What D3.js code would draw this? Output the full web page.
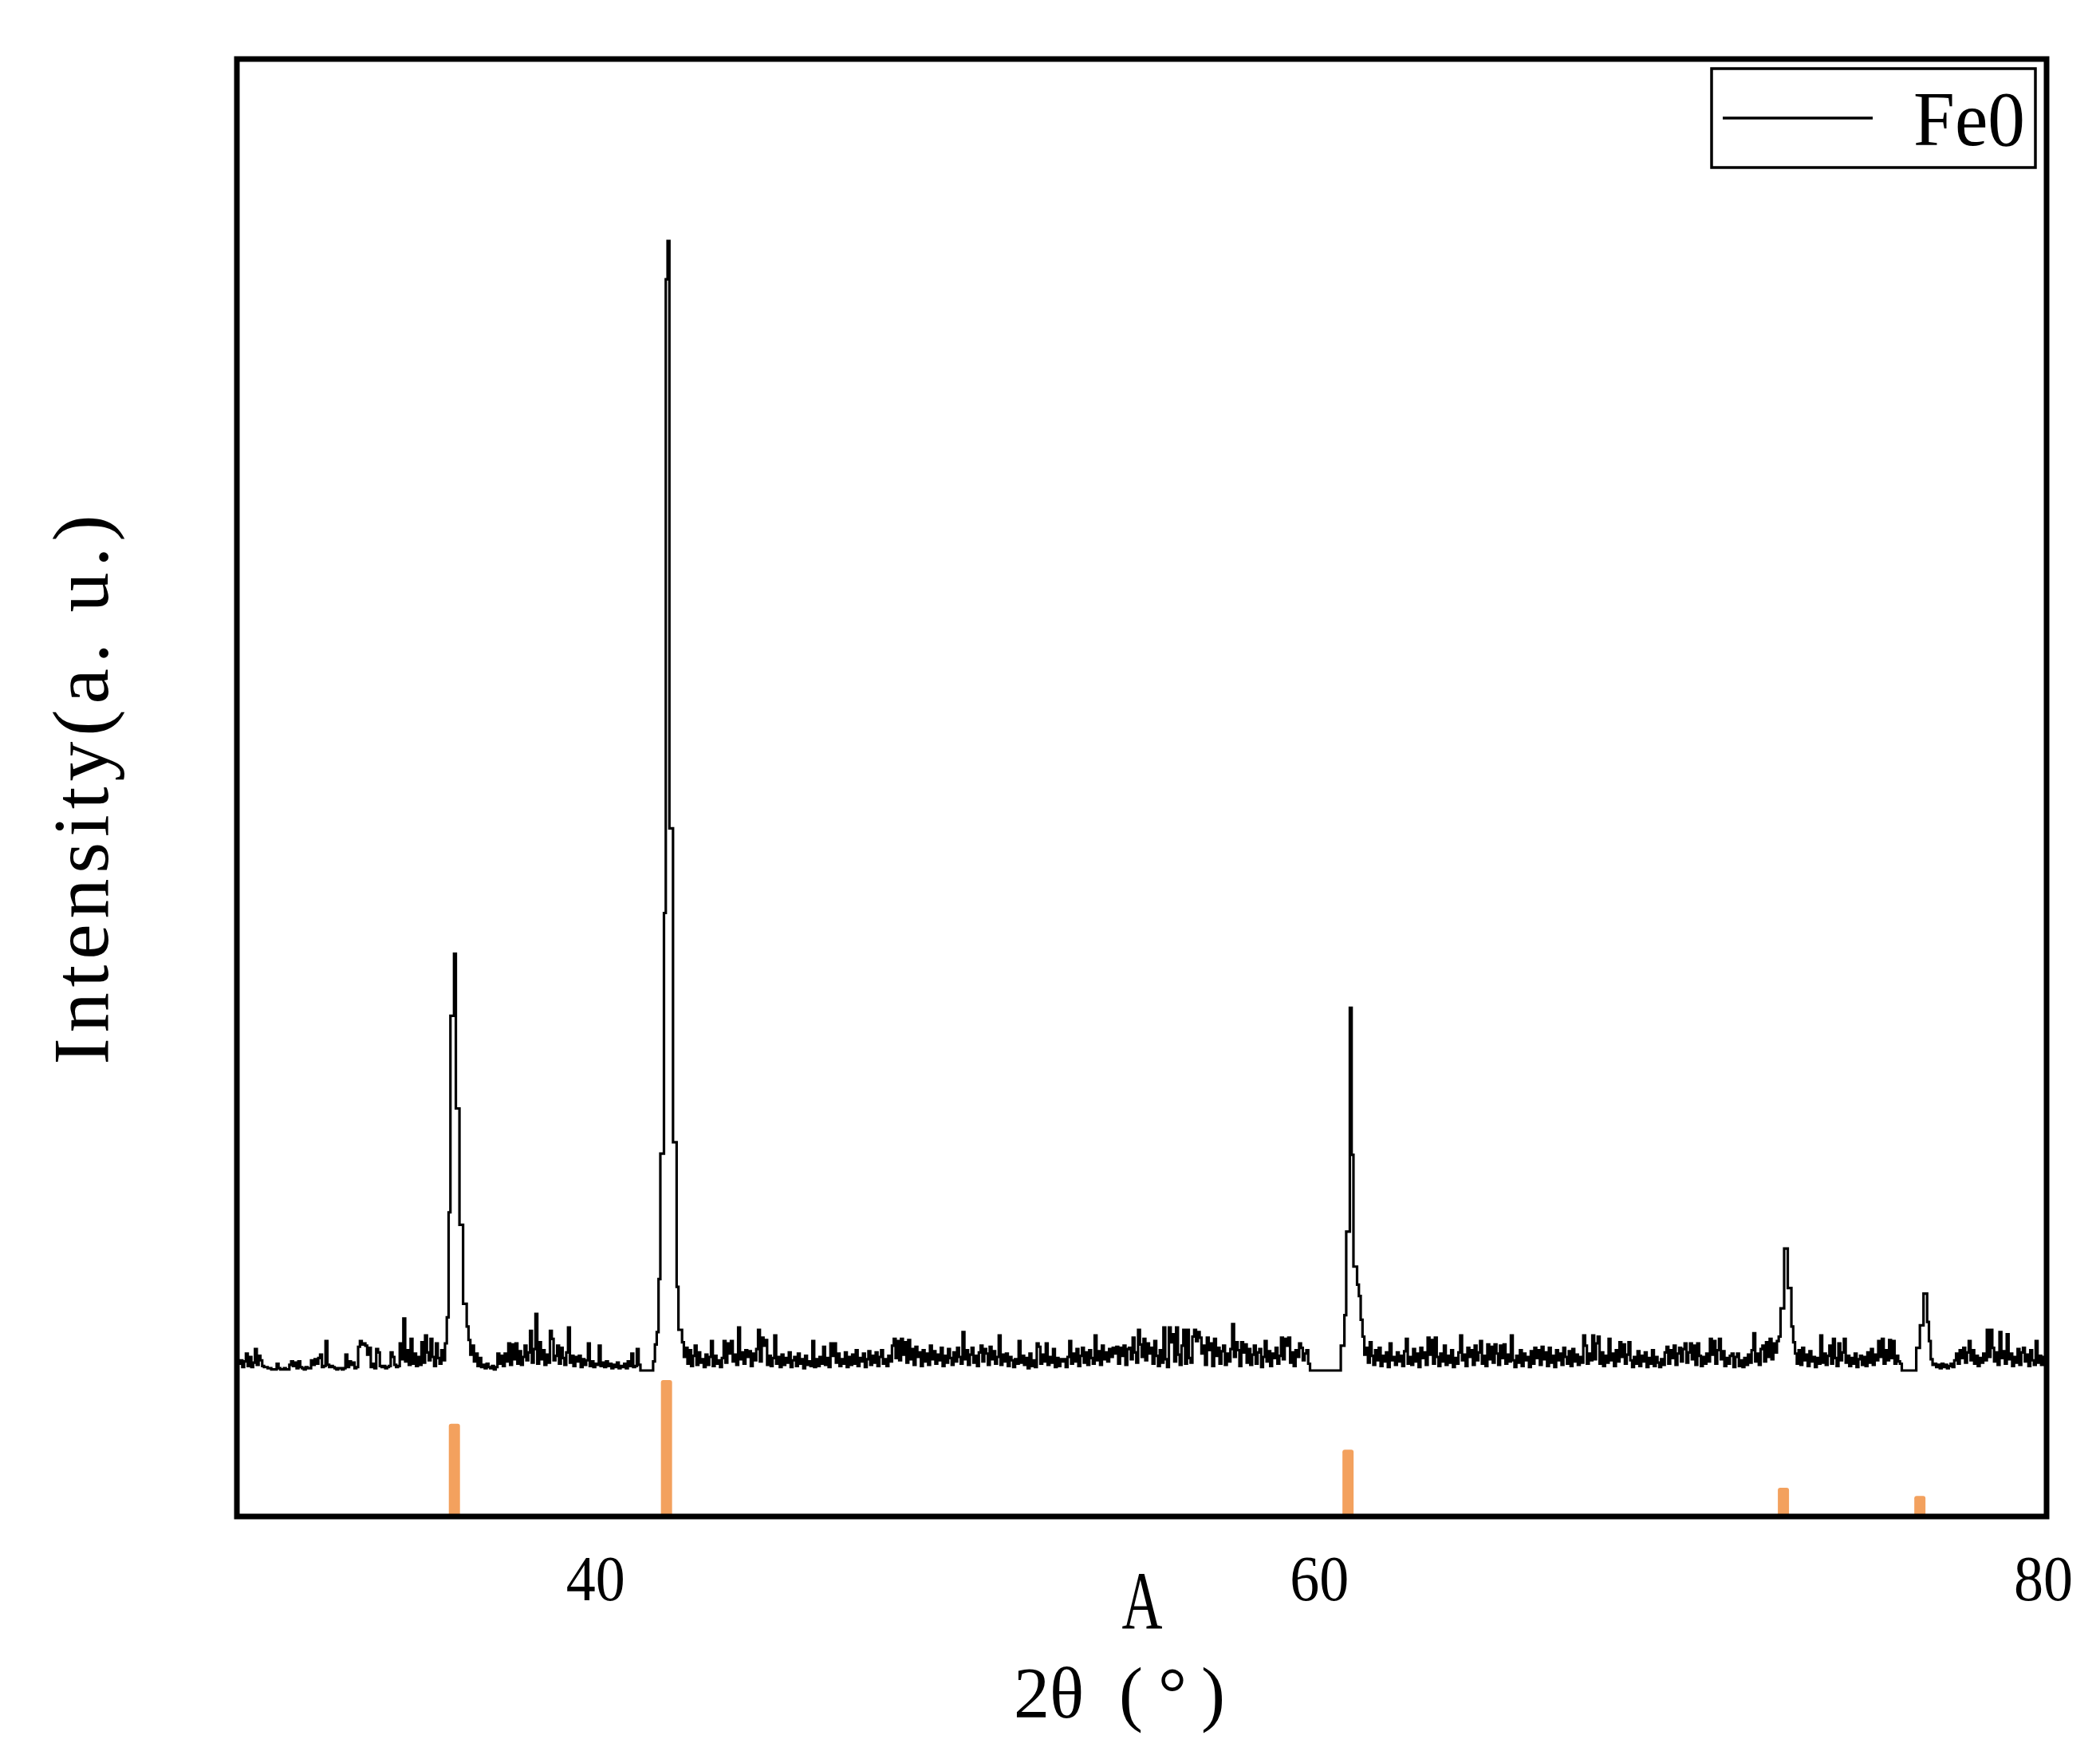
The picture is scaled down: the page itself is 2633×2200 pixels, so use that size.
<!DOCTYPE html>
<html><head><meta charset="utf-8">
<script src="https://cdn.jsdelivr.net/npm/d3@7"></script>
<style>html,body{margin:0;padding:0;background:#fff;} svg{display:block;}</style>
</head><body>
<svg id="chart" width="2633" height="2200"></svg>
<script>
// ---------- data ----------
const xTickValues = [40, 60, 80];
const thetaStart = 30.1;   // first 2θ sample
const thetaStep = 0.05;    // sampling step of the pattern
const intensity = [
  0.8,0.6,0.9,0.3,0.8,1.5,0.4,1.2,0.3,0.7,1.9,0.5,1.3,0.9,0.4,0.3,0.3,0.2,0.2,0.1, // 30.10-31.05
  0.1,0.1,0.6,0.2,0.1,0.1,0.2,0.1,0.1,0.5,0.8,0.4,0.7,0.2,0.8,0.3,0.2,0.1,0.3,0.2, // 31
  0.2,0.9,0.5,1.0,0.6,1.1,1.4,0.3,0.4,2.6,0.5,0.3,0.4,0.3,0.2,0.1,0.2,0.2,0.1,0.2, // 32
  1.4,0.3,0.8,0.5,0.7,0.2,0.3,2.1,2.6,2.3,2.4,2.2,1.4,2.0,0.3,0.6,0.2,1.9,1.6,0.4, // 33
  0.3,0.4,0.2,0.3,0.4,1.6,1.2,0.5,0.3,0.4,2.4,1.0,4.6,0.8,1.8,0.5,2.8,0.6,1.5,0.4, // 34
  1.2,0.5,2.5,0.7,3.1,1.6,0.9,2.8,1.2,0.4,2.4,1.1,0.6,1.8,0.9,2.4,4.7,14.0,31.4,31.4, // 35
  36.9,23.2,23.2,12.9,12.9,5.9,5.9,3.9,2.7,1.4,2.2,0.8,1.5,0.4,1.1,0.3,0.5,0.2,0.6,0.3, // 36
  0.2,0.4,0.1,0.3,1.5,0.6,1.3,0.4,1.5,0.8,2.4,0.5,2.3,1.0,2.4,0.6,1.7,0.5,1.2,2.2, // 37
  0.9,1.6,3.5,0.7,1.9,5.0,0.6,2.5,1.0,1.8,0.5,1.4,0.7,3.5,2.8,0.9,1.3,2.2,0.6,2.0, // 38
  1.1,0.5,1.6,3.8,0.7,1.3,0.4,1.2,0.8,1.3,0.3,1.0,0.5,0.9,2.4,0.4,0.8,0.3,0.6,0.5, // 39
  2.2,0.4,0.7,0.3,0.8,0.4,0.6,0.2,0.5,0.3,0.7,0.2,0.4,0.3,0.6,0.2,0.8,0.4,1.5,0.3, // 40
  0.4,1.9,0.5,0,0,0,0,0,0,0,0.8,2.3,3.4,8.1,19.2,19.2,40.5,96.6,100,48.0,          // 41
  48.0,20.2,20.2,7.4,3.6,3.6,2.5,1.2,2.0,0.6,1.8,0.4,1.3,2.2,0.5,1.6,0.7,1.0,0.3,1.4, // 42
  0.5,1.2,2.6,0.4,1.3,0.6,0.9,0.3,1.1,2.6,0.7,2.4,1.5,2.6,0.8,1.4,0.5,3.8,1.0,1.6, // 43
  0.6,1.8,1.2,1.7,0.4,1.5,0.9,1.9,3.6,0.8,2.9,2.2,2.7,0.5,1.3,0.4,1.1,3.1,0.6,1.2, // 44
  0.3,1.4,0.5,1.1,0.7,1.6,0.3,0.9,1.2,0.4,1.5,0.6,1.0,0.2,1.3,0.5,0.8,0.4,2.6,0.3, // 45
  1.0,0.4,1.2,0.6,2.1,0.5,1.1,0.3,2.4,1.3,2.4,0.7,1.5,0.4,1.0,0.6,1.6,0.3,1.2,0.5, // 46
  1.4,0.6,1.8,0.4,1.1,0.8,1.5,0.3,1.0,1.7,0.5,1.3,0.7,1.6,0.4,1.2,1.8,0.6,1.0,0.4, // 47
  1.3,0.8,2.2,2.8,1.1,2.6,0.9,2.8,1.4,2.5,0.7,2.7,1.0,1.9,0.5,2.1,1.2,1.6,0.4,1.8, // 48
  0.8,1.5,0.5,2.2,1.0,1.7,0.6,1.4,0.9,2.0,0.4,1.3,0.7,1.9,1.1,0.5,1.6,0.8,2.0,1.2, // 49
  0.6,3.4,1.0,1.8,0.5,1.4,2.0,0.7,1.3,0.4,1.6,2.2,0.8,1.9,1.5,0.5,2.1,1.0,1.7,0.6, // 50
  1.2,3.1,0.5,1.4,0.8,1.5,0.4,1.2,0.9,0.3,1.0,0.6,2.6,0.7,1.3,0.5,1.1,0.2,1.5,0.4, // 51
  0.9,0.3,2.4,2.1,0.6,1.4,0.8,2.4,0.5,1.2,0.7,1.9,0.3,1.1,0.4,1.0,0.8,1.0,0.3,1.2, // 52
  2.6,0.6,1.5,0.8,1.9,0.4,1.3,2.0,0.7,1.6,0.5,1.8,1.1,0.6,3.1,0.9,1.7,0.5,2.2,1.0, // 53
  1.6,0.8,1.9,1.2,2.0,1.5,2.1,0.6,2.0,1.3,2.2,0.5,1.9,2.0,1.0,2.9,1.6,0.7,3.6,2.3, // 54
  1.2,2.8,0.9,2.4,1.5,2.0,0.6,2.6,1.3,0.4,1.8,0.7,3.8,1.0,0.3,3.8,2.5,3.2,0.8,3.8, // 55
  1.4,0.5,2.2,3.6,0.6,3.6,1.1,0.7,3.0,3.6,2.6,3.4,2.9,1.5,2.2,0.5,2.9,1.8,2.4,0.4, // 56
  2.8,1.3,2.0,0.6,1.7,2.2,0.5,1.5,0.8,1.9,4.1,1.2,2.5,1.8,0.4,2.5,1.6,2.3,0.7,1.9, // 57
  0.5,1.4,2.2,0.6,1.6,1.9,0.3,1.2,2.6,0.8,1.7,0.4,1.5,1.1,2.0,0.6,1.3,2.9,1.0,2.8, // 58
  2.2,2.9,0.7,1.6,0.4,1.8,1.2,2.4,2.0,0.9,1.5,1.8,0.6,0,0,0,0,0,0,0,               // 59
  0,0,0,0,0,0,0,0,0,0,2.2,2.2,4.9,12.3,12.3,32.1,19.1,9.2,9.2,7.6,                 // 60
  6.6,4.5,3.0,1.4,2.0,0.7,2.5,1.3,0.5,1.8,0.9,2.0,0.4,1.3,0.8,1.6,0.3,2.4,0.9,1.2, // 61
  0.5,1.6,0.8,1.3,0.4,1.7,2.8,0.6,1.2,0.5,1.9,0.8,1.5,0.3,2.0,1.1,1.6,0.5,2.9,1.4, // 62
  2.7,0.6,2.9,1.2,0.4,1.5,0.8,2.2,0.5,1.3,0.7,1.8,0.3,1.1,0.6,1.6,3.1,0.9,1.4,0.4, // 63
  2.0,1.2,1.8,0.5,2.2,0.9,1.6,2.6,0.6,1.3,0.4,2.3,1.0,2.1,0.7,2.3,1.5,0.5,2.2,1.1, // 64
  2.3,0.6,1.4,0.8,3.1,0.9,0.3,1.3,0.7,1.8,0.4,1.5,0.9,1.2,0.3,1.7,0.6,2.0,1.1,1.8, // 65
  0.5,2.1,1.0,1.6,0.4,2.0,0.7,1.3,0.3,1.8,0.9,1.5,0.5,2.0,1.2,0.6,1.7,0.4,1.9,0.8, // 66
  1.4,0.5,1.2,0.7,3.1,2.2,0.6,1.5,0.9,3.1,1.0,2.4,3.0,0.6,1.6,0.4,1.3,0.7,2.8,0.9, // 67
  1.5,0.4,1.8,0.8,2.5,1.2,2.3,0.6,1.4,2.5,0.9,0.3,1.2,0.6,1.7,0.4,1.3,0.8,1.6,0.3, // 68
  1.1,0.6,1.8,0.4,1.2,0.7,0.3,1.0,0.5,1.6,2.1,0.6,1.8,1.1,2.2,0.5,1.5,2.0,0.8,1.9, // 69
  2.4,0.7,1.6,2.4,1.0,2.2,0.5,2.4,1.3,0.4,1.2,0.6,1.5,0.8,2.8,1.4,2.6,0.6,1.8,2.8, // 70
  1.0,1.7,0.4,1.1,0.6,1.3,1.5,0.3,1.2,1.5,0.4,0.9,0.3,1.1,0.5,1.4,0.7,1.8,3.3,0.8, // 71
  1.5,0.5,1.9,2.2,0.8,2.5,1.2,2.8,1.0,2.4,1.6,2.6,3.0,5.5,5.5,10.8,10.8,7.3,7.3,3.9, // 72
  2.5,1.5,0.6,1.8,0.5,2.0,0.9,1.4,0.4,1.7,0.8,1.2,0.3,1.1,0.6,3.1,0.7,1.5,0.5,1.3, // 73
  2.2,0.6,2.8,1.1,0.4,2.4,0.9,1.6,2.8,0.7,1.3,0.4,1.1,0.6,1.5,0.3,1.0,1.3,0.5,1.2, // 74
  0.4,1.6,0.7,1.9,0.5,1.4,0.9,2.6,1.2,2.8,0.6,1.8,0.9,2.7,1.1,2.6,0.6,1.3,0.8,0.6, // 75
  0,0,0,0,0,0,0,0,2.0,2.0,4.0,4.0,6.8,6.8,4.3,2.6,1.0,0.5,0.6,0.3,                 // 76
  0.5,0.2,0.6,0.3,0.5,0.2,0.4,0.6,0.3,0.9,1.5,0.6,1.8,1.1,2.0,0.7,1.6,2.6,0.9,1.8, // 77
  0.6,1.3,0.4,1.1,0.7,1.5,0.9,3.6,1.2,3.6,2.0,0.8,1.6,0.5,3.4,1.1,1.7,0.6,3.2,1.0, // 78
  1.5,0.4,1.2,0.7,1.9,0.5,1.6,2.0,0.8,1.4,0.4,1.8,0.9,0.5,2.6,0.7,1.3,0.5,1.2,0.8  // 79
];
const refTheta = [36.11, 41.97, 60.80, 72.83, 76.60];   // FeO reference lines
const refIntensity = [68, 100, 49, 21, 15];
const seriesLabel = "Fe0";
const xTitleParts = ["2θ", "(", "°", ")"];
const yTitle = "Intensity(a. u.)";
const panelLabel = "A";

// ---------- layout ----------
const W = 2633, H = 2200;
const frame = {left: 297, top: 74, right: 2566, bottom: 1901};
const serif = "'Liberation Serif', 'Times New Roman', serif";

const x = d3.scaleLinear().domain([30.1, 80.1]).range([frame.left, frame.right]);
const y = d3.scaleLinear().domain([0, 100]).range([1718, 302]);
const yRef = d3.scaleLinear().domain([0, 100]).range([frame.bottom, 1730]);

const svg = d3.select("#chart");
svg.append("rect").attr("width", W).attr("height", H).attr("fill", "#fff");

svg.append("defs").append("clipPath").attr("id", "plotclip")
  .append("rect").attr("x", frame.left).attr("y", frame.top)
  .attr("width", frame.right - frame.left).attr("height", frame.bottom - frame.top);

// reference sticks
svg.append("g").attr("clip-path", "url(#plotclip)")
  .selectAll("rect").data(refTheta.map((t, i) => ({t, v: refIntensity[i]})))
  .join("rect")
  .attr("x", d => x(d.t) - 7).attr("width", 14)
  .attr("y", d => yRef(d.v)).attr("height", d => frame.bottom - yRef(d.v) + 4)
  .attr("rx", 3)
  .attr("fill", "#F3A15E");

// pattern
const pattern = intensity.map((v, i) => ({t: thetaStart + i * thetaStep, v}));
const line = d3.line().x(d => x(d.t)).y(d => y(d.v)).curve(d3.curveStepAfter);
svg.append("path").datum(pattern)
  .attr("clip-path", "url(#plotclip)")
  .attr("d", line)
  .attr("fill", "none").attr("stroke", "#000")
  .attr("stroke-width", 3.2).attr("stroke-linejoin", "miter");

// frame
svg.append("rect")
  .attr("x", frame.left).attr("y", frame.top)
  .attr("width", frame.right - frame.left).attr("height", frame.bottom - frame.top)
  .attr("fill", "none").attr("stroke", "#000").attr("stroke-width", 7);

// x axis labels
const xAxis = svg.append("g").attr("transform", `translate(0,${frame.bottom})`)
  .call(d3.axisBottom(x).tickValues(xTickValues).tickSize(0).tickPadding(47).tickFormat(d3.format("d")));
xAxis.select(".domain").remove();
xAxis.selectAll("text")
  .attr("font-family", serif).attr("font-size", 81).attr("fill", "#000")
  .attr("textLength", 74).attr("lengthAdjust", "spacingAndGlyphs");

// panel label
svg.append("text").attr("x", 1432).attr("y", 2042)
  .attr("text-anchor", "middle").attr("font-family", serif).attr("font-size", 104)
  .attr("textLength", 51).attr("lengthAdjust", "spacingAndGlyphs")
  .attr("fill", "#000").text(panelLabel);

// x title (pieces laid out like the wide-spaced original)
const xTitlePos = [1271, 1403, 1452, 1506];
const xt = svg.append("text").attr("y", 2153)
  .attr("font-family", serif).attr("font-size", 90).attr("fill", "#000");
xTitleParts.forEach((s, i) => xt.append("tspan").attr("x", xTitlePos[i]).text(s));

// y title
svg.append("text").attr("transform", "translate(135,990) rotate(-90)")
  .attr("text-anchor", "middle").attr("font-family", serif).attr("font-size", 100)
  .attr("textLength", 689).attr("lengthAdjust", "spacing")
  .attr("fill", "#000").text(yTitle);

// legend
const lg = svg.append("g");
lg.append("rect").attr("x", 2146).attr("y", 86).attr("width", 406).attr("height", 124)
  .attr("fill", "#fff").attr("stroke", "#000").attr("stroke-width", 3.5);
lg.append("line").attr("x1", 2160).attr("x2", 2348).attr("y1", 148).attr("y2", 148)
  .attr("stroke", "#000").attr("stroke-width", 3.5);
lg.append("text").attr("x", 2399).attr("y", 182)
  .attr("font-family", serif).attr("font-size", 98)
  .attr("textLength", 140).attr("lengthAdjust", "spacingAndGlyphs")
  .attr("fill", "#000").text(seriesLabel);
</script>
</body></html>
